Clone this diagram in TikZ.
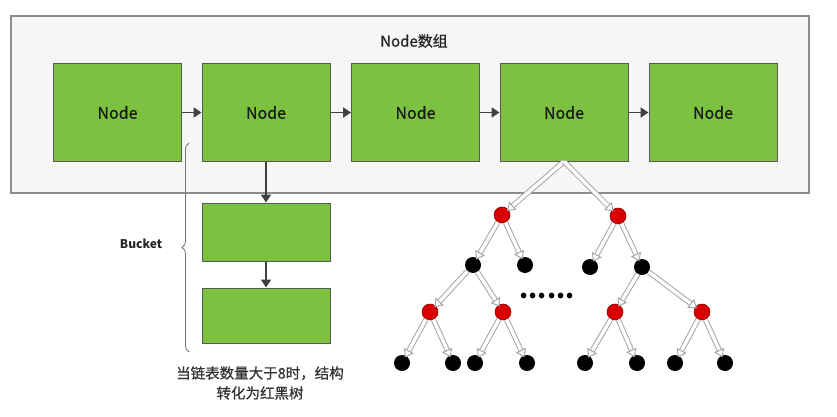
\documentclass[tikz,border=0pt]{standalone}
\usepackage{fontspec}
\setmainfont{Noto Sans CJK SC}
\newfontfamily\nodefont{Noto Sans CJK SC}[FakeBold=0.7]
\usetikzlibrary{arrows.meta,decorations.pathreplacing}
\definecolor{nodegreen}{RGB}{124,193,64}
\definecolor{framegray}{RGB}{246,246,246}
\begin{document}
\begin{tikzpicture}[x=1pt,y=-1pt,
  frame/.style={draw=black!45,fill=framegray,line width=1.2pt,minimum width=798pt,minimum height=177pt,inner sep=0pt},
  box/.style={draw=black!65,fill=nodegreen,line width=1pt,minimum width=128pt,inner sep=0pt,text=black!90,font=\nodefont\fontsize{16}{19}\selectfont},
  link/.style={draw=black!75,line width=1.8pt,-{Triangle[length=8pt,width=10pt]}},
  hollow/.style={draw=black!35,double=white,double distance=3.4pt,line width=1pt,shorten >=-2pt,-{Triangle[open,length=8pt,width=11pt]}},
  red/.style={circle,fill=red!85!black,draw=red!55!black,line width=0.6pt,minimum size=16pt,inner sep=0pt},
  blk/.style={circle,fill=black,minimum size=16pt,inner sep=0pt}]
\useasboundingbox (0,0) rectangle (837,417);
% array frame
\node[frame] (array) at (410,104.5) {};
\node[font=\nodefont\fontsize{15}{18}\selectfont,text=black!85] (title) at (414,41) {Node数组};
\foreach \i/\x in {1/117.5,2/266,3/415.5,4/564,5/713}
  \node[box,minimum height=97pt] (n\i) at (\x,112.5) {Node};
\foreach \i/\j in {1/2,2/3,3/4,4/5}
  \draw[link] (n\i) -- (n\j);
% bucket
\node[box,minimum height=58pt] (k1) at (266,232) {};
\node[box,minimum height=55pt] (k2) at (266,315.5) {};
\draw[link] (n2) -- (k1);
\draw[link] (k1) -- (k2);
\draw[black!55,line width=0.8pt,decorate,decoration={brace,amplitude=7pt}] (189,352) -- (189,143);
\node[font=\bfseries\fontsize{12}{14}\selectfont,text=black!85] (bucket) at (141,244) {Bucket};
\node[align=center,font=\nodefont\fontsize{14.5}{20}\selectfont,text=black!80] (note) at (260,383) {当链表数量大于8时，结构\\转化为红黑树};
% red-black tree
\coordinate (top) at (n4.south);
\node[red] (r1) at (502,215) {};
\node[red] (r2) at (618,216) {};
\node[blk] (b1) at (473,265) {};
\node[blk] (b2) at (525,265) {};
\node[blk] (b3) at (590,267) {};
\node[blk] (b4) at (642,267) {};
\node[red] (r3) at (430,312) {};
\node[red] (r4) at (503,312) {};
\node[red] (r5) at (615,312) {};
\node[red] (r6) at (702,312) {};
\foreach \i/\x in {1/402,2/453,3/475,4/527,5/585,6/637,7/675,8/725}
  \node[blk] (l\i) at (\x,363) {};
\node[font=\bfseries\fontsize{26}{26}\selectfont] (dots) at (547,296) {......};
\foreach \a/\b in {top/r1,top/r2,r1/b1,r1/b2,r2/b3,r2/b4,b1/r3,b1/r4,b4/r5,b4/r6,
  r3/l1,r3/l2,r4/l3,r4/l4,r5/l5,r5/l6,r6/l7,r6/l8}
  \draw[hollow] (\a) -- (\b);
\end{tikzpicture}
\end{document}
